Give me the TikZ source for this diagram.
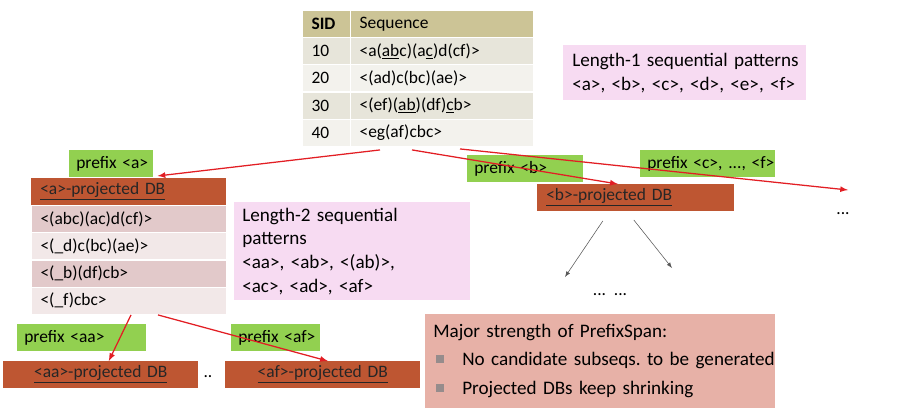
\documentclass[tikz,border=0pt]{standalone}
\usepackage{fontspec}
\setmainfont{Carlito}
\usetikzlibrary{calc}
\hyphenpenalty=10000
\exhyphenpenalty=10000
\frenchspacing

\definecolor{hdrtan}{RGB}{204,196,150}
\definecolor{rowdark}{RGB}{231,229,218}
\definecolor{rowlight}{RGB}{243,242,237}
\definecolor{prefgreen}{RGB}{146,208,80}
\definecolor{dbbrown}{RGB}{190,86,50}
\definecolor{projdark}{RGB}{226,201,202}
\definecolor{projlight}{RGB}{242,232,232}
\definecolor{pinkbox}{RGB}{247,219,242}
\definecolor{salmon}{RGB}{231,177,167}
\definecolor{arrred}{RGB}{226,30,36}
\definecolor{bulgray}{RGB}{150,140,140}

\newcommand{\sqbul}{\hspace{0.15em}\textcolor{bulgray}{\rule[0.3ex]{0.42em}{0.42em}}\hspace{0.95em}}

\tikzset{
	cell/.style={anchor=north west, draw=white, line width=0.8pt, inner xsep=0.225cm, inner ysep=0pt, minimum height=0.68cm, align=left},
	tag/.style={anchor=north west, fill=prefgreen, inner xsep=0.175cm, inner ysep=0pt, minimum height=0.66cm, align=left},
	dbbox/.style={anchor=north west, fill=dbbrown, inner xsep=0.225cm, inner ysep=0pt, minimum height=0.66cm, text=black!85},
	note/.style={anchor=north west, inner ysep=0.05cm, align=left, font=\fontsize{13.6}{16.8}\selectfont},
	redarr/.style={-latex, draw=arrred, line width=0.9pt},
	grayarr/.style={-latex, draw=black!65, line width=0.4pt},
}

\begin{document}
\begin{tikzpicture}[x=0.025cm, y=-0.025cm, font=\fontsize{12.4}{15}\selectfont]
	\useasboundingbox (0,0) rectangle (912,407);
	
	%%% Таблица последовательностей
	\node[cell, fill=hdrtan, text width=0.75cm] (hsid) at (302,10) {\textbf{SID}};
	\node[cell, fill=hdrtan, text width=4.125cm] (hseq) at (350,10) {Sequence};
	\foreach \sid/\seq/\shade [count=\i] in {
		10/{<a(\underline{ab}c)(a\underline{c})d(cf)>}/rowdark,
		20/{<(ad)c(bc)(ae)>}/rowlight,
		30/{<(ef)(\underline{ab})(df)\underline{c}b>}/rowdark,
		40/{<eg(af)cbc>}/rowlight}
	{
		\node[cell, fill=\shade, text width=0.75cm] (sid\i) at (302,{37+27.2*(\i-1)}) {\sid};
		\node[cell, fill=\shade, text width=4.125cm] (seq\i) at (350,{37+27.2*(\i-1)}) {\seq};
	}
	
	% Шаблоны длины 1
	\node[note, fill=pinkbox, inner xsep=0.225cm, text width=5.625cm, minimum height=1.375cm] (len1) at (563,45)
		{\mbox{Length-1 sequential patterns}\\ \mbox{<a>, <b>, <c>, <d>, <e>, <f>}};
	
	%%% Проекция по <a>
	\node[tag, text width=1.75cm] (pfa) at (69,150) {prefix~<a>};
	\node[dbbox, text width=4.425cm] (dba) at (31,178) {\underline{<a>-projected DB}};
	\foreach \seq/\shade [count=\i] in {
		{<(abc)(ac)d(cf)>}/projdark,
		{<(\_d)c(bc)(ae)>}/projlight,
		{<(\_b)(df)cb>}/projdark,
		{<(\_f)cbc>}/projlight}
	{
		\node[cell, fill=\shade, text width=4.425cm] (a\i) at (31,{205+27.2*(\i-1)}) {\seq};
	}
	
	% Шаблоны длины 2
	\node[note, fill=pinkbox, inner xsep=0.2cm, text width=5.5cm, minimum height=2.45cm] (len2) at (234,202)
		{\mbox{Length-2 sequential}\\ patterns\\ \mbox{<aa>, <ab>, <(ab)>,}\\ \mbox{<ac>, <ad>, <af>}};
	
	%%% Проекция по <b> и остальные
	\node[tag, text width=2.55cm] (pfb) at (467,155) {prefix~<b>};
	\node[dbbox, text width=4.475cm] (dbb) at (537,184) {\underline{<b>-projected DB}};
	\node[tag, text width=3.025cm] (pfc) at (640,150) {prefix~<c>,~...,~<f>};
	\node (dotsr) at (843,214) {...};
	\node (dotsb) at (610,295) {...\ \ ...};
	\coordinate (rest) at (848,190);
	\coordinate (gl) at (565,277);
	\coordinate (gr) at (672,268);
	
	%%% Проекции второго уровня
	\node[tag, text width=2.875cm] (pfaa) at (17,324) {prefix~<aa>};
	\node[dbbox, text width=4.425cm, align=center] (dbaa) at (3,361) {\underline{<aa>-projected DB}};
	\node (dotsm) at (208,377) {..};
	\node[tag, text width=1.875cm] (pfaf) at (231,324) {prefix~<af>};
	\node[dbbox, text width=4.425cm, align=center] (dbaf) at (225,361) {\underline{<af>-projected DB}};
	
	% Главное преимущество
	\node[note, fill=salmon, inner xsep=0.2cm, text width=8.35cm, minimum height=2.33cm,
		font=\fontsize{13.6}{20.3}\selectfont] (major) at (425,314)
		{\mbox{Major strength of PrefixSpan:}\\
		 \mbox{\sqbul No candidate subseqs. to be generated}\\
		 \mbox{\sqbul Projected DBs keep shrinking}};
	
	%%% Стрелки
	\draw[redarr] ($(seq4.south west)+(30,3)$) -- ($(pfa.south east)+(4,-1)$);
	\draw[redarr] ($(seq4.south west)+(62,3)$) -- ($(dbb.north)+(-18,0)$);
	\draw[redarr] ($(seq4.south west)+(110,2)$) -- (rest);
	\draw[redarr] ($(a4.south west)+(100,0)$) -- ($(dbaa.north)+(8,0)$);
	\draw[redarr] ($(a4.south west)+(127,0)$) -- ($(dbaf.north)+(5,0)$);
	
	\draw[grayarr] ($(dbb.south)+(-33,10)$) -- (gl);
	\draw[grayarr] ($(dbb.south)+(-2,9)$) -- (gr);
\end{tikzpicture}
\end{document}
